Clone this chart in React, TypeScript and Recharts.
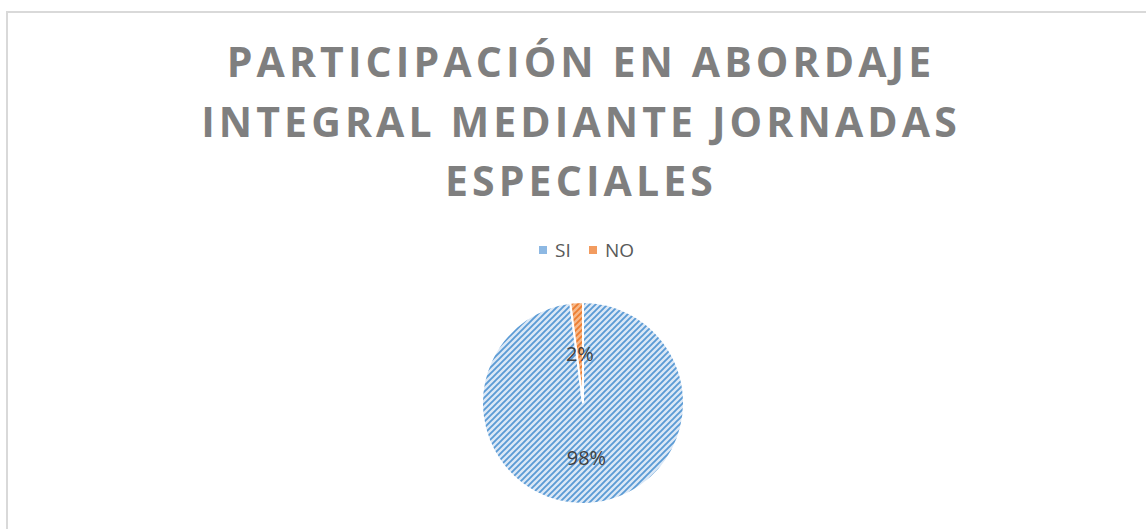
import React from "react";
import { PieChart, Pie, Cell } from "recharts";

const categories = ["SI", "NO"];
const values = [98, 2];
const percentLabels = ["98%", "2%"];
const titleLines = ["PARTICIPACIÓN EN ABORDAJE", "INTEGRAL MEDIANTE JORNADAS", "ESPECIALES"];

const patternIds = ["hatchBlue", "hatchOrange"];
const legendIconColors = ["#8db8e3", "#f29b5f"];
const data = categories.map((name, i) => ({ name, value: values[i], label: percentLabels[i] }));

const W = 1146;
const H = 529;
const RAD = Math.PI / 180;

const renderLabel = (props: any) => {
  const { cx, cy, midAngle, outerRadius, index } = props;
  const r = outerRadius * (index === 0 ? 0.54 : 0.49);
  const x = cx + r * Math.cos(-midAngle * RAD);
  const y = cy + r * Math.sin(-midAngle * RAD);
  return (
    <text
      x={x}
      y={y}
      textAnchor="middle"
      dominantBaseline="central"
      fill="#404040"
      fontSize={20}
      fontFamily="'Open Sans', sans-serif"
    >
      {data[index].label}
    </text>
  );
};

export default function App() {
  return (
    <div style={{ position: "absolute", left: 0, top: 0, width: W, height: H, overflow: "hidden", background: "#fff" }}>
      <div
        style={{
          position: "absolute",
          left: 6,
          top: 11,
          width: W + 20,
          height: H + 20,
          border: "2px solid #d9d9d9",
          boxSizing: "border-box",
        }}
      />
      <svg width={W} height={H} style={{ position: "absolute", left: 0, top: 0 }}>
        <defs>
          <pattern id="hatchBlue" patternUnits="userSpaceOnUse" width={6} height={6}>
            <rect width={6} height={6} fill="#dbe8f6" />
            <path d="M0,6 L6,0 M-1,1 L1,-1 M5,7 L7,5" stroke="#5b9bd5" strokeWidth={1.9} />
          </pattern>
          <pattern id="hatchOrange" patternUnits="userSpaceOnUse" width={6} height={6}>
            <rect width={6} height={6} fill="#f6b889" />
            <path d="M0,6 L6,0 M-1,1 L1,-1 M5,7 L7,5" stroke="#ed7d31" strokeWidth={1.9} />
          </pattern>
        </defs>
        {titleLines.map((t, i) => (
          <text
            key={i}
            x={581}
            y={77 + i * 59.5}
            textAnchor="middle"
            fill="#7f7f7f"
            fontSize={41}
            fontWeight={700}
            letterSpacing={4.1}
            fontFamily="'Open Sans', sans-serif"
          >
            {t}
          </text>
        ))}
        {categories.map((c, i) => (
          <g key={c}>
            <rect x={539 + i * 50} y={246} width={8} height={8} fill={legendIconColors[i]} />
            <text
              x={555 + i * 50}
              y={250}
              dominantBaseline="central"
              fill="#595959"
              fontSize={19}
              fontFamily="'Open Sans', sans-serif"
            >
              {c}
            </text>
          </g>
        ))}
      </svg>
      <div style={{ position: "absolute", left: 0, top: 0 }}>
        <PieChart width={W} height={H} margin={{ top: 0, right: 0, bottom: 0, left: 0 }}>
          <Pie
            data={data}
            dataKey="value"
            nameKey="name"
            cx={583}
            cy={403}
            outerRadius={101}
            startAngle={90}
            endAngle={-270}
            stroke="#ffffff"
            strokeWidth={2}
            label={renderLabel}
            labelLine={false}
            isAnimationActive={false}
          >
            {data.map((d, i) => (
              <Cell key={d.name} fill={`url(#${patternIds[i]})`} />
            ))}
          </Pie>
        </PieChart>
      </div>
    </div>
  );
}
